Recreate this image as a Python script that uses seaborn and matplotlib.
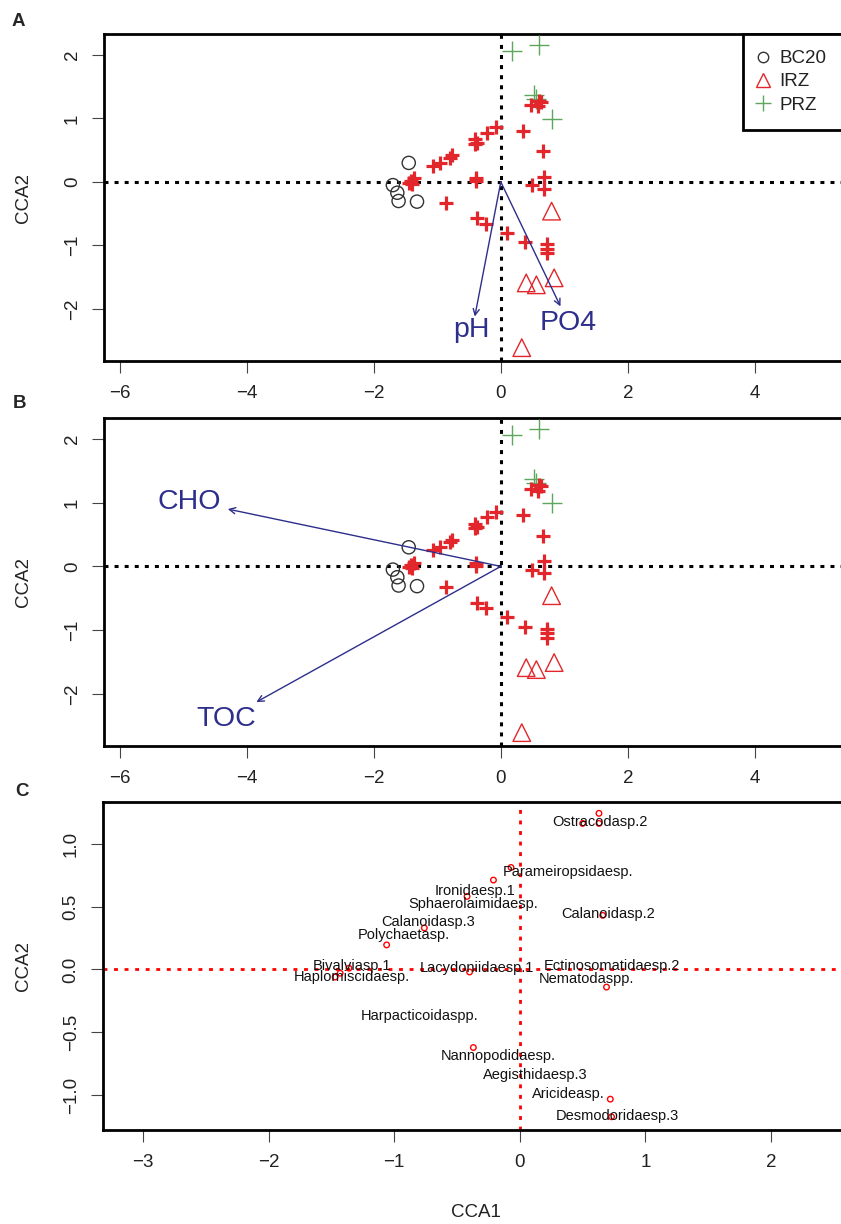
import matplotlib
matplotlib.use("Agg")
import matplotlib.pyplot as plt
import numpy as np
import pandas as pd
import seaborn as sns
from matplotlib.lines import Line2D

sns.set_style("white")
plt.rcParams["font.family"] = ["Liberation Sans", "DejaVu Sans"]

# ---- site scores (CCA1, CCA2) by group ----
bc20_x = [-1.45, -1.70, -1.63, -1.61, -1.32]
bc20_y = [0.30, -0.05, -0.17, -0.30, -0.31]
irz_x = [0.80, 0.40, 0.56, 0.84, 0.33]
irz_y = [-0.46, -1.59, -1.62, -1.51, -2.61]
prz_x = [0.17, 0.60, 0.52, 0.56, 0.81]
prz_y = [2.06, 2.15, 1.37, 1.31, 0.99]

# ---- species scores ----
spec_x = [-0.08, -0.22, -0.41, -0.41, -0.38, -0.77, -0.80, -0.96, -1.07,
          -1.36, -1.42, -1.45, -1.40, -0.39, -0.39, -0.86, -0.38, -0.23,
          0.09, 0.38, 0.72, 0.73, 0.72, 0.68, 0.49, 0.68, 0.66, 0.35,
          0.48, 0.64, 0.59, 0.60]
spec_y = [0.86, 0.77, 0.67, 0.60, 0.62, 0.42, 0.38, 0.30, 0.25,
          0.06, 0.02, -0.01, -0.03, 0.06, 0.01, -0.33, -0.57, -0.66,
          -0.80, -0.95, -0.98, -1.05, -1.12, 0.08, -0.05, -0.11, 0.48, 0.80,
          1.21, 1.26, 1.19, 1.28]

# ---- environmental vectors ----
envA_names = ["pH", "PO4"]
envA_x = [-0.41, 0.94]
envA_y = [-2.12, -1.96]
envA_lab_x = [-0.47, 1.06]
envA_lab_y = [-2.33, -2.22]

envB_names = ["CHO", "TOC"]
envB_x = [-4.30, -3.85]
envB_y = [0.90, -2.13]
envB_lab_x = [-4.90, -4.33]
envB_lab_y = [1.01, -2.39]

# ---- labelled species (panel C) ----
taxa_pt_x = [0.63, 0.50, 0.63, -0.07, -0.21, -0.42, 0.66, -0.76, -1.06,
             -1.36, -1.43, -1.47, -0.40, 0.69, -0.37, 0.72, 0.73]
taxa_pt_y = [1.24, 1.16, 1.16, 0.81, 0.71, 0.58, 0.43, 0.33, 0.195,
             0.01, -0.03, -0.06, -0.02, -0.14, -0.62, -1.03, -1.17]
taxa_names = ["Ostracodasp.2", "Parameiropsidaesp.", "Ironidaesp.1",
              "Sphaerolaimidaesp.", "Calanoidasp.2", "Calanoidasp.3",
              "Polychaetasp.", "Bivalviasp.1", "Haplomiscidaesp.",
              "Lacydoniidaesp.1", "Ectinosomatidaesp.2", "Nematodaspp.",
              "Harpacticoidaspp.", "Nannopodidaesp.", "Aegisthidaesp.3",
              "Aricideasp.", "Desmodoridaesp.3"]
taxa_lab_x = [0.64, 0.38, -0.36, -0.37, 0.70, -0.73, -0.92, -1.335, -1.34,
              -0.345, 0.73, 0.53, -0.80, -0.17, 0.125, 0.39, 0.78]
taxa_lab_y = [1.17, 0.775, 0.62, 0.52, 0.44, 0.38, 0.27, 0.03, -0.063,
              0.01, 0.03, -0.077, -0.37, -0.685, -0.84, -0.99, -1.16]

RED = "#E3262B"
GREEN = "#5DA65D"
NAVY = "#2E2E8C"
GREY = "#333333"
TICK = 13.5

sites = pd.DataFrame({
    "CCA1": bc20_x + irz_x + prz_x,
    "CCA2": bc20_y + irz_y + prz_y,
    "zone": ["BC20"] * len(bc20_x) + ["IRZ"] * len(irz_x) + ["PRZ"] * len(prz_x),
})
species = pd.DataFrame({"CCA1": spec_x, "CCA2": spec_y})
taxa = pd.DataFrame({"CCA1": taxa_pt_x, "CCA2": taxa_pt_y})

W, H = 841, 1224
fig = plt.figure(figsize=(W / 100, H / 100), dpi=100)
fig.patch.set_facecolor("white")


def add_axes_px(left, top, right, bottom):
    return fig.add_axes([left / W, 1 - bottom / H, (right - left) / W, (bottom - top) / H])


def style_axes(ax, xlabel=None):
    for sp in ax.spines.values():
        sp.set_linewidth(2.0)
        sp.set_color("black")
    ax.tick_params(axis="both", direction="out", length=8.6, width=0.8,
                   color="#444444", labelsize=TICK, labelcolor="#222222",
                   bottom=True, left=True, top=False, right=False)
    ax.tick_params(axis="x", pad=9)
    ax.tick_params(axis="y", pad=8, labelrotation=90)
    for lab in ax.get_yticklabels():
        lab.set_va("center")
    ax.set_ylabel("CCA2", fontsize=TICK, color="#222222")
    ax.yaxis.set_label_coords(-0.0965, 0.5)
    if xlabel:
        ax.set_xlabel(xlabel, fontsize=TICK, color="#222222")
        ax.xaxis.set_label_coords(0.5, -0.225)
    else:
        ax.set_xlabel("")
    ax.grid(False)


def site_panel(ax):
    dot = (0, (1.3, 2.0))
    ax.axhline(0, color="black", lw=2.2, ls=dot, zorder=1)
    ax.axvline(0, color="black", lw=2.2, ls=dot, zorder=1)
    sub = sites[sites.zone == "BC20"]
    sns.scatterplot(data=sub, x="CCA1", y="CCA2", marker="o", s=90,
                    facecolors="none", edgecolors=GREY, linewidths=1.0,
                    ax=ax, zorder=3)
    sub = sites[sites.zone == "IRZ"]
    sns.scatterplot(data=sub, x="CCA1", y="CCA2", marker="^", s=160,
                    facecolors="none", edgecolors=RED, linewidths=1.0,
                    ax=ax, zorder=3)
    sub = sites[sites.zone == "PRZ"]
    sns.scatterplot(data=sub, x="CCA1", y="CCA2", marker="+", s=210,
                    color=GREEN, edgecolor=None, linewidths=1.0, ax=ax, zorder=3)
    sns.scatterplot(data=species, x="CCA1", y="CCA2", marker="+", s=115,
                    color=RED, edgecolor=None, linewidths=2.3, ax=ax, zorder=4)
    ax.set_xlim(-6.25, 5.5)
    ax.set_ylim(-2.82, 2.33)
    ax.set_xticks([-6, -4, -2, 0, 2, 4])
    ax.set_yticks([-2, -1, 0, 1, 2])


def draw_vectors(ax, names, xs, ys, lx, ly):
    for n, x, y, tx, ty in zip(names, xs, ys, lx, ly):
        ax.annotate("", xy=(x, y), xytext=(0, 0),
                    arrowprops=dict(arrowstyle="->", color=NAVY, lw=1.0,
                                    shrinkA=0, shrinkB=0, mutation_scale=11),
                    zorder=5)
        ax.text(tx, ty, n, color=NAVY, fontsize=20.5, ha="center", va="center",
                zorder=6)


# ---- panel A ----
axA = add_axes_px(104, 34, 850, 361)
site_panel(axA)
draw_vectors(axA, envA_names, envA_x, envA_y, envA_lab_x, envA_lab_y)
style_axes(axA)
handles = [
    Line2D([], [], ls="none", marker="o", mfc="none", mec=GREY, ms=7.5, mew=1.0),
    Line2D([], [], ls="none", marker="^", mfc="none", mec=RED, ms=9.5, mew=1.0),
    Line2D([], [], ls="none", marker="+", color=GREEN, ms=11, mew=1.0),
]
leg = axA.legend(handles, ["BC20", "IRZ", "PRZ"], loc="upper left",
                 bbox_to_anchor=(0.857, 0.0, 0.25, 1.0), mode="expand",
                 borderaxespad=0, fontsize=TICK, frameon=True, fancybox=False,
                 borderpad=0.85, handlelength=0.45, handletextpad=0.62,
                 labelspacing=0.33, framealpha=1)
leg.get_frame().set_edgecolor("black")
leg.get_frame().set_linewidth(2.0)
for t in leg.get_texts():
    t.set_color("#222222")

# ---- panel B ----
axB = add_axes_px(104, 418, 850, 746)
site_panel(axB)
draw_vectors(axB, envB_names, envB_x, envB_y, envB_lab_x, envB_lab_y)
style_axes(axB)

# ---- panel C ----
axC = add_axes_px(102.7, 802, 849, 1130)
dotC = (0, (1.4, 2.4))
axC.axhline(0, color="red", lw=2.0, ls=dotC, zorder=1)
axC.axvline(0, color="red", lw=2.0, ls=dotC, zorder=1)
sns.scatterplot(data=taxa, x="CCA1", y="CCA2", marker="o", s=16,
                facecolors="none", edgecolors="red", linewidths=1.0,
                ax=axC, zorder=3)
for n, tx, ty in zip(taxa_names, taxa_lab_x, taxa_lab_y):
    axC.text(tx, ty, n, fontsize=10.5, ha="center", va="center",
             color="#111111", zorder=4)
axC.set_xlim(-3.32, 2.62)
axC.set_ylim(-1.275, 1.33)
axC.set_xticks([-3, -2, -1, 0, 1, 2])
axC.set_yticks([-1.0, -0.5, 0.0, 0.5, 1.0])
axC.yaxis.set_major_formatter(matplotlib.ticker.FuncFormatter(
    lambda v, p: f"{v:.1f}".replace("-", "\u2212")))
style_axes(axC, xlabel="CCA1")
axC.yaxis.set_label_coords(-0.0947, 0.5)

# ---- panel letters ----
for letter, xp, yp in [("A", 12, 22), ("B", 13, 404), ("C", 15, 791)]:
    fig.text(xp / W, 1 - yp / H, letter, fontsize=13.5, fontweight="bold",
             ha="left", va="center")

fig.savefig("out.png", dpi=100)
